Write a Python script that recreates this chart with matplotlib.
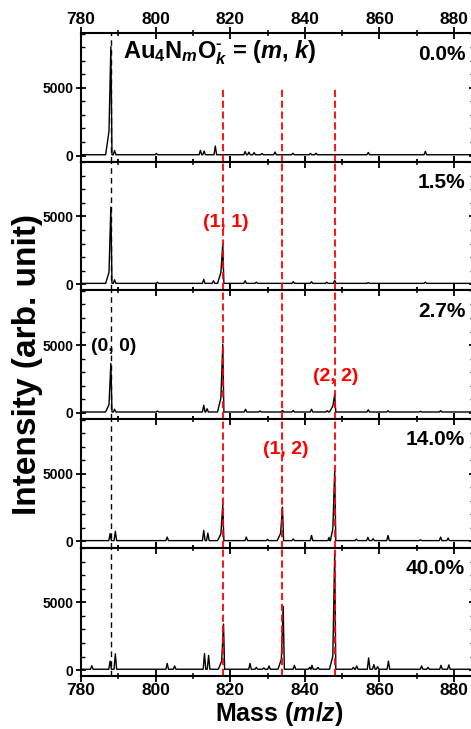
import numpy as np
import matplotlib
matplotlib.use("Agg")
import matplotlib.pyplot as plt
from matplotlib.ticker import MultipleLocator

plt.rcParams['font.family'] = ['Liberation Sans', 'DejaVu Sans']
plt.rcParams['font.weight'] = 'bold'
plt.rcParams['axes.labelweight'] = 'bold'
plt.rcParams['mathtext.fontset'] = 'custom'
plt.rcParams['mathtext.rm'] = 'Liberation Sans:bold'
plt.rcParams['mathtext.bf'] = 'Liberation Sans:bold'
plt.rcParams['mathtext.it'] = 'Liberation Sans:italic:bold'

# peak tables: (mass, peak height, shoulder height on low-mass side)
peaks_00 = [(788.0, 8050, 1800), (789.0, 380, 0), (800.2, 150, 0), (812.0, 380, 0),
            (813.0, 330, 0), (816.0, 700, 0), (824.0, 300, 0), (825.0, 250, 0),
            (826.4, 220, 0), (828.5, 150, 0), (832.0, 260, 0), (836.8, 170, 0),
            (841.5, 160, 0), (843.0, 170, 0), (857.0, 230, 0), (872.3, 310, 0)]
peaks_15 = [(788.0, 5700, 870), (789.0, 320, 0), (800.5, 140, 0), (812.9, 360, 0),
            (815.5, 250, 0), (818.0, 2970, 870), (824.0, 250, 0), (827.0, 150, 0),
            (836.9, 180, 0), (841.8, 180, 0), (845.9, 150, 0), (848.0, 280, 0),
            (857.0, 120, 0), (872.3, 150, 0)]
peaks_27 = [(788.0, 3650, 600), (789.0, 260, 0), (800.5, 130, 0), (812.9, 560, 0),
            (813.8, 300, 0), (818.0, 5050, 1100), (824.1, 260, 0), (828.0, 140, 0),
            (834.0, 170, 0), (836.9, 170, 0), (841.8, 260, 0), (846.0, 150, 0),
            (848.0, 1340, 490), (857.0, 220, 0), (862.3, 150, 0), (871.0, 110, 0),
            (876.4, 160, 0)]
peaks_140 = [(787.8, 570, 0), (789.2, 740, 0), (803.1, 320, 0), (812.9, 810, 0),
             (814.0, 620, 0), (818.0, 2730, 570), (824.3, 320, 0), (830.0, 150, 0),
             (834.0, 2530, 600), (836.9, 180, 0), (841.8, 440, 0), (846.5, 300, 0),
             (848.0, 5190, 935), (853.8, 170, 0), (856.9, 300, 0), (858.3, 200, 0),
             (862.3, 440, 0), (871.0, 120, 0), (876.4, 320, 0), (878.4, 250, 0)]
peaks_400 = [(782.9, 320, 0), (787.8, 660, 0), (789.2, 1200, 0), (803.1, 490, 0),
             (805.1, 300, 0), (813.1, 1220, 0), (814.2, 1080, 0), (818.2, 3400, 660),
             (825.3, 490, 0), (827.0, 200, 0), (829.0, 160, 0), (830.4, 300, 0),
             (834.2, 4700, 800), (837.2, 350, 0), (841.3, 200, 0), (841.9, 350, 0),
             (843.5, 200, 0), (848.0, 8620, 1030), (853.0, 200, 0), (853.9, 300, 0),
             (857.1, 900, 0), (858.5, 400, 0), (859.5, 250, 0), (862.4, 660, 0),
             (871.3, 300, 0), (873.0, 200, 0), (876.5, 350, 0), (878.6, 380, 0)]

spectra = [peaks_00, peaks_15, peaks_27, peaks_140, peaks_400]
pct_labels = ['0.0%', '1.5%', '2.7%', '14.0%', '40.0%']

black_line = 788
red_lines = [818, 834, 848]

# (panel, text, mass, intensity, colour)
notes = [(1, '(1, 1)', 818.7, 4550, 'red'),
         (2, '(0, 0)', 788.8, 4900, 'black'),
         (2, '(2, 2)', 848.4, 2650, 'red'),
         (3, '(1, 2)', 834.8, 6800, 'red')]

base = 60
ylo, yhi = -450, 9050


def trace(peaks):
    xs, ys = [780], [base]
    for m, h, s in sorted(peaks):
        if s > 0:
            xs += [m - 1.4, m - 0.5, m, m + 0.3]
            ys += [base, s, h, base]
        else:
            xs += [m - 0.35, m, m + 0.35]
            ys += [base, h, base]
    xs.append(886)
    ys.append(base)
    order = np.argsort(xs, kind='stable')
    return np.array(xs)[order], np.array(ys)[order]


fig, axes = plt.subplots(5, 1, sharex=True, figsize=(4.71, 7.29), dpi=100)
fig.subplots_adjust(left=0.172, right=1.006, top=0.9547, bottom=0.0725, hspace=0)

for i, ax in enumerate(axes):
    x, y = trace(spectra[i])
    ax.plot(x, y, color='black', lw=1.0)
    ax.axvline(black_line, color='black', lw=1.0, ls=(0, (4, 3)))
    for r in red_lines:
        if i == 0:
            ax.axvline(r, ymax=(5000 - ylo) / (yhi - ylo), color='red', lw=1.3, ls=(0, (4, 2)))
        else:
            ax.axvline(r, color='red', lw=1.3, ls=(0, (4, 2)))
    ax.text(883, 7500, pct_labels[i], ha='right', va='center', fontsize=15, fontweight='bold')
    ax.set_xlim(780, 885.3)
    ax.set_ylim(ylo, yhi)
    ax.xaxis.set_major_locator(MultipleLocator(20))
    ax.xaxis.set_minor_locator(MultipleLocator(10))
    ax.yaxis.set_major_locator(MultipleLocator(5000))
    ax.yaxis.set_minor_locator(MultipleLocator(1000))
    ax.tick_params(axis='x', which='major', direction='inout', length=8, width=1.3,
                   top=True, bottom=True, labelbottom=False, labeltop=False, labelsize=12.5)
    ax.tick_params(axis='x', which='minor', direction='inout', length=5, width=1.1,
                   top=True, bottom=True)
    ax.tick_params(axis='y', which='major', direction='inout', length=7, width=1.3,
                   left=True, right=True, labelsize=10, pad=2)
    ax.tick_params(axis='y', which='minor', direction='in', length=3, width=1.0,
                   left=True, right=True)
    for sp in ax.spines.values():
        sp.set_linewidth(1.5)
    for lab in ax.get_yticklabels():
        lab.set_fontweight('bold')

for p, txt, m, v, c in notes:
    axes[p].text(m, v, txt, color=c, ha='center', va='center', fontsize=14, fontweight='bold')

axes[0].text(791.2, 7570, r'Au$_4$N$_m$O$_k^{\text{-}}$ = ($m$, $k$)', ha='left', va='center',
             fontsize=17, fontweight='bold')

axes[0].tick_params(axis='x', which='major', labeltop=True, pad=0.5)
axes[-1].tick_params(axis='x', which='major', labelbottom=True, pad=1)
for ax in (axes[0], axes[-1]):
    for lab in ax.get_xticklabels():
        lab.set_fontweight('bold')

fig.text(0.593, 0.002, r'Mass ($m/z$)', ha='center', va='bottom',
         fontsize=18, fontweight='bold')
fig.text(0.058, 0.50, 'Intensity (arb. unit)', rotation=90, ha='center', va='center',
         fontsize=24, fontweight='bold')

plt.savefig('out.png', dpi=100)
